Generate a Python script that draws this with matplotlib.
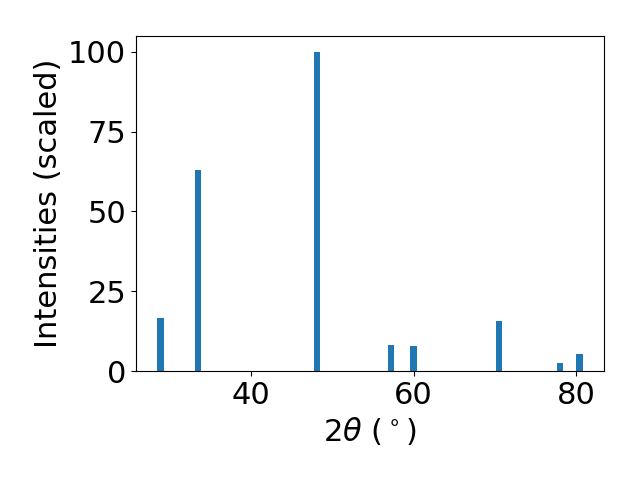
import numpy as np
import matplotlib.pyplot as plt

two_theta = [28.9, 33.5, 48.1, 57.2, 60.0, 70.5, 78.0, 80.4]
intensity = [16.6, 63.0, 100.0, 8.1, 7.8, 15.7, 2.5, 5.3]

plt.rcParams['font.size'] = 22

fig, ax = plt.subplots(figsize=(6.4, 4.8), dpi=100)
ax.bar(two_theta, intensity, width=0.8)
ax.set_xlabel(r'$2\theta$ ($^\circ$)')
ax.set_ylabel('Intensities (scaled)')
ax.set_yticks([0, 25, 50, 75, 100])
fig.subplots_adjust(left=0.2125, right=0.944, bottom=0.227, top=0.925)
fig.savefig('out.png')
